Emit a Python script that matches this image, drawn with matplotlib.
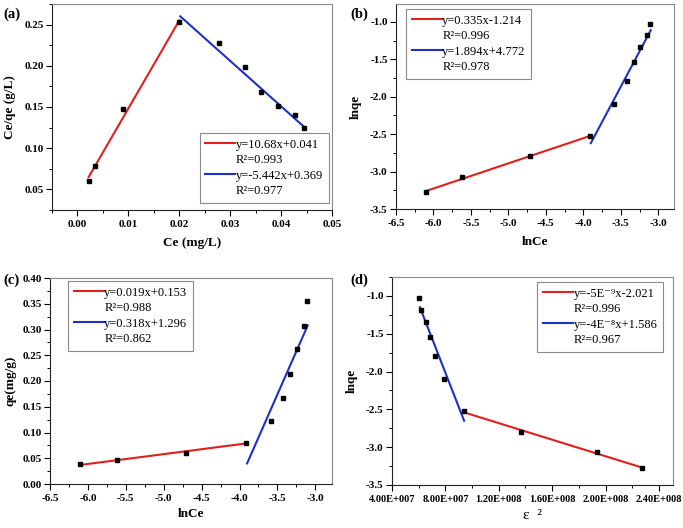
import matplotlib
matplotlib.use("Agg")
import matplotlib.pyplot as plt
from matplotlib.lines import Line2D
from matplotlib.ticker import AutoMinorLocator, FuncFormatter, FormatStrFormatter, MultipleLocator

plt.rcParams["font.family"] = ["Liberation Serif", "DejaVu Serif"]

# ---- data ----
# (a) Langmuir-type: Ce/qe vs Ce
a_x = [0.0022, 0.0035, 0.0090, 0.0200, 0.0278, 0.0330, 0.0360, 0.0393, 0.0428, 0.0445]
a_y = [0.060, 0.078, 0.148, 0.253, 0.228, 0.198, 0.168, 0.151, 0.140, 0.125]
a_red_x, a_red_y = [0.0022, 0.0200], [0.065, 0.255]
a_blue_x, a_blue_y = [0.0202, 0.0445], [0.260, 0.126]
a_labels = ["y=10.68x+0.041", "R²=0.993", "y=-5.442x+0.369", "R²=0.977"]

# (b) Freundlich: lnqe vs lnCe
lnce = [-6.10, -5.62, -4.71, -3.91, -3.59, -3.42, -3.33, -3.24, -3.15, -3.11]
b_y = [-3.27, -3.07, -2.79, -2.52, -2.10, -1.79, -1.54, -1.34, -1.18, -1.03]
b_red_x, b_red_y = [-6.10, -3.90], [-3.26, -2.52]
b_blue_x, b_blue_y = [-3.90, -3.10], [-2.62, -1.11]
b_labels = ["y=0.335x-1.214", "R²=0.996", "y=1.894x+4.772", "R²=0.978"]

# (c) Temkin: qe vs lnCe
c_y = [0.038, 0.047, 0.061, 0.080, 0.122, 0.167, 0.214, 0.262, 0.307, 0.356]
c_red_x, c_red_y = [-6.10, -3.90], [0.037, 0.079]
c_blue_x, c_blue_y = [-3.90, -3.10], [0.040, 0.308]
c_labels = ["y=0.019x+0.153", "R²=0.988", "y=0.318x+1.296", "R²=0.862"]

# (d) D-R: lnqe vs epsilon^2
d_x = [6.02e7, 6.19e7, 6.52e7, 6.85e7, 7.23e7, 7.93e7, 9.40e7, 1.366e8, 1.936e8, 2.274e8]
d_y = [-1.03, -1.18, -1.34, -1.54, -1.79, -2.10, -2.52, -2.80, -3.07, -3.28]
d_red_x, d_red_y = [9.40e7, 2.274e8], [-2.54, -3.27]
d_blue_x, d_blue_y = [6.09e7, 9.40e7], [-1.15, -2.65]
d_labels = ["y=-5E⁻⁹x-2.021", "R²=0.996", "y=-4E⁻⁸x+1.586", "R²=0.967"]

RED = "#e0201c"
BLUE = "#1f2fc8"
FW, FH = 683, 528

fig = plt.figure(figsize=(FW / 100, FH / 100), dpi=100)
axes = []


def px_axes(l, t, r, b):
    ax = fig.add_axes([l / FW, 1 - b / FH, (r - l) / FW, (b - t) / FH])
    axes.append(ax)
    return ax


def style(ax, xsize=8):
    for s in ("top", "right"):
        ax.spines[s].set_color("#8a8a8a")
    for s in ("left", "bottom"):
        ax.spines[s].set_color("#222222")
    ax.tick_params(which="both", direction="out", top=False, right=False)
    ax.tick_params(which="major", length=4, width=0.8, labelsize=8, pad=2)
    ax.tick_params(axis="x", which="major", labelsize=xsize, pad=3)
    ax.tick_params(which="minor", length=2, width=0.7)
    ax.xaxis.set_minor_locator(AutoMinorLocator(2))
    ax.yaxis.set_minor_locator(AutoMinorLocator(2))


def draw(ax, x, y, rx, ry, bx, by, labels, **legkw):
    ax.plot(rx, ry, color=RED, lw=1.5, zorder=2)
    ax.plot(bx, by, color=BLUE, lw=1.5, zorder=2)
    ax.plot(x, y, ls="none", marker="s", ms=3.0, color="black", zorder=3)
    blank = Line2D([], [], color="none")
    handles = [Line2D([], [], color=RED, lw=1.5), blank,
               Line2D([], [], color=BLUE, lw=1.5), blank]
    leg = ax.legend(handles, labels, prop={"size": 9},
                    handlelength=2.4, handletextpad=0.05, borderaxespad=0,
                    labelspacing=0.28, borderpad=0.45, fancybox=False, framealpha=1,
                    edgecolor="#8a8a8a", **legkw)
    leg.get_frame().set_linewidth(0.8)


# (a)
ax = px_axes(52, 4, 332, 210)
draw(ax, a_x, a_y, a_red_x, a_red_y, a_blue_x, a_blue_y, a_labels,
     loc="lower right", bbox_to_anchor=(0.989, 0.034))
ax.set_xlim(-0.005, 0.05)
ax.set_ylim(0.025, 0.275)
ax.xaxis.set_major_locator(MultipleLocator(0.01))
ax.yaxis.set_major_locator(MultipleLocator(0.05))
ax.xaxis.set_major_formatter(FormatStrFormatter("%.2f"))
ax.yaxis.set_major_formatter(FormatStrFormatter("%.2f"))
ax.set_xlabel("Ce (mg/L)", fontsize=9.5, fontweight="bold", labelpad=6)
ax.set_ylabel("Ce/qe (g/L)", fontsize=9.5, fontweight="bold", labelpad=6)
style(ax)

# (b)
ax = px_axes(396, 4, 674, 209)
draw(ax, lnce, b_y, b_red_x, b_red_y, b_blue_x, b_blue_y, b_labels,
     loc="upper left", bbox_to_anchor=(0.036, 0.976))
ax.set_xlim(-6.5, -2.79)
ax.set_ylim(-3.5, -0.76)
ax.xaxis.set_major_locator(MultipleLocator(0.5))
ax.yaxis.set_major_locator(MultipleLocator(0.5))
ax.xaxis.set_major_formatter(FormatStrFormatter("%.1f"))
ax.yaxis.set_major_formatter(FormatStrFormatter("%.1f"))
ax.set_xlabel("lnCe", fontsize=9.5, fontweight="bold", labelpad=6)
ax.set_ylabel("lnqe", fontsize=9.5, fontweight="bold", labelpad=6)
style(ax)

# (c)
ax = px_axes(50, 278, 332, 484)
draw(ax, lnce, c_y, c_red_x, c_red_y, c_blue_x, c_blue_y, c_labels,
     loc="upper left", bbox_to_anchor=(0.064, 0.985))
ax.set_xlim(-6.5, -2.78)
ax.set_ylim(0, 0.40)
ax.xaxis.set_major_locator(MultipleLocator(0.5))
ax.yaxis.set_major_locator(MultipleLocator(0.05))
ax.xaxis.set_major_formatter(FormatStrFormatter("%.1f"))
ax.yaxis.set_major_formatter(FormatStrFormatter("%.2f"))
ax.set_xlabel("lnCe", fontsize=9.5, fontweight="bold", labelpad=4)
ax.set_ylabel("qe(mg/g)", fontsize=9.5, fontweight="bold", labelpad=4)
style(ax)

# (d)
ax = px_axes(392, 277, 673, 485)
draw(ax, d_x, d_y, d_red_x, d_red_y, d_blue_x, d_blue_y, d_labels,
     loc="upper right", bbox_to_anchor=(0.964, 0.976))
ax.set_xlim(4.0e7, 2.505e8)
ax.set_ylim(-3.5, -0.75)
ax.xaxis.set_major_locator(MultipleLocator(4.0e7))
ax.yaxis.set_major_locator(MultipleLocator(0.5))


def sci(v, pos):
    if v == 0:
        return "0"
    e = 0
    m = v
    while abs(m) >= 10:
        m /= 10
        e += 1
    return f"{m:.2f}E+{e:03d}"


ax.xaxis.set_major_formatter(FuncFormatter(sci))
ax.yaxis.set_major_formatter(FormatStrFormatter("%.1f"))
ax.set_xlabel("ε  ²", fontsize=11, labelpad=4)
ax.set_ylabel("lnqe", fontsize=9.5, fontweight="bold", labelpad=6)
style(ax, xsize=7.5)

for txt, x, y in [("(a)", 3, 14), ("(b)", 350, 14), ("(c)", 3, 280), ("(d)", 350, 280)]:
    fig.text(x / FW, 1 - y / FH, txt, fontsize=10.5, fontweight="bold", ha="left", va="center")

fig.canvas.draw()
for ax in axes:
    for lab in ax.get_xticklabels() + ax.get_yticklabels():
        lab.set_fontweight("bold")

fig.savefig("out.png", dpi=100)
